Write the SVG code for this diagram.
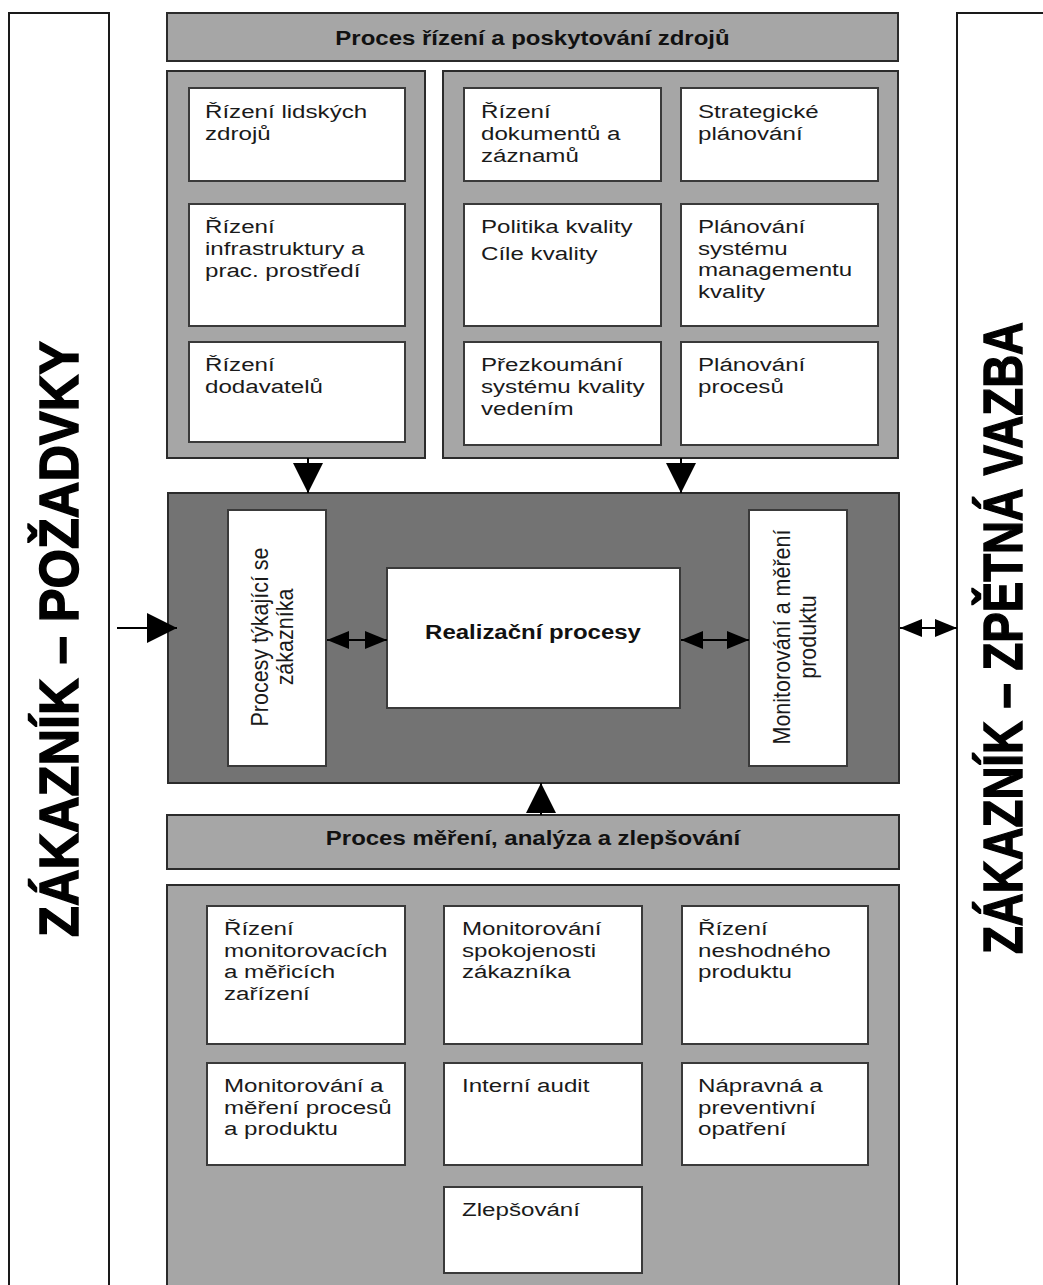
<svg xmlns="http://www.w3.org/2000/svg" width="1043" height="1285" viewBox="0 0 1043 1285">
  <style>
    .side { fill: #ffffff; stroke: #1a1a1a; stroke-width: 2; }
    .band { fill: #a6a6a6; stroke: #2b2b2b; stroke-width: 2; }
    .core { fill: #737373; stroke: #2b2b2b; stroke-width: 2; }
    .cell { fill: #ffffff; stroke: #3a3a3a; stroke-width: 2; }
    .t { font-family: "Liberation Sans", Arial, sans-serif; font-size: 19px; fill: #1a1a1a; }
    .tb { font-family: "Liberation Sans", Arial, sans-serif; font-size: 19.5px; font-weight: bold; fill: #111; text-anchor: middle; }
    .tv { font-family: "Liberation Sans", Arial, sans-serif; font-size: 21.5px; fill: #1a1a1a; text-anchor: middle; }
    .big { font-family: "Liberation Sans", Arial, sans-serif; font-size: 45.5px; font-weight: bold; fill: #000; stroke: #000; stroke-width: 1.2; text-anchor: middle; }
    .link { fill: none; stroke: #000; stroke-width: 2; }
  </style>
  <defs>
    <marker id="headBig" markerUnits="userSpaceOnUse" markerWidth="30" markerHeight="30" viewBox="0 0 30 30" refX="30" refY="15" orient="auto">
      <path d="M0,0 L30,15 L0,30 Z" fill="#000"/>
    </marker>
    <marker id="headSmall" markerUnits="userSpaceOnUse" markerWidth="22" markerHeight="18" viewBox="0 0 22 18" refX="22" refY="9" orient="auto-start-reverse">
      <path d="M0,0 L22,9 L0,18 Z" fill="#000"/>
    </marker>
  </defs>

  <!-- customer side columns -->
  <g id="customer-requirements">
    <rect class="side" x="9" y="13" width="100" height="1300"/>
    <text class="big" transform="translate(78,639) scale(1.23,1) rotate(-90)" textLength="596" lengthAdjust="spacingAndGlyphs">ZÁKAZNÍK – POŽADVKY</text>
  </g>
  <g id="customer-feedback">
    <rect class="side" x="957" y="13" width="120" height="1300"/>
    <text class="big" transform="translate(1022,638) scale(1.23,1) rotate(-90)" textLength="632" lengthAdjust="spacingAndGlyphs">ZÁKAZNÍK – ZPĚTNÁ VAZBA</text>
  </g>

  <!-- resource management -->
  <g id="resource-header">
    <rect class="band" x="167" y="13" width="731" height="48"/>
    <text class="tb" transform="matrix(1.23 0 0 1 532.5 45)">Proces řízení a poskytování zdrojů</text>
  </g>
  <g id="resource-panel-left">
    <rect class="band" x="167" y="71" width="258" height="387"/>
  </g>
  <g id="resource-panel-right">
    <rect class="band" x="443" y="71" width="455" height="387"/>
  </g>

  <g id="human-resources">
    <rect class="cell" x="189" y="88" width="216" height="93"/>
    <text class="t" transform="matrix(1.27 0 0 1 205 118)"><tspan x="0">Řízení lidských</tspan><tspan x="0" dy="22">zdrojů</tspan></text>
  </g>
  <g id="infrastructure">
    <rect class="cell" x="189" y="204" width="216" height="122"/>
    <text class="t" transform="matrix(1.27 0 0 1 205 233)"><tspan x="0">Řízení</tspan><tspan x="0" dy="22">infrastruktury a</tspan><tspan x="0" dy="22">prac. prostředí</tspan></text>
  </g>
  <g id="suppliers">
    <rect class="cell" x="189" y="342" width="216" height="100"/>
    <text class="t" transform="matrix(1.27 0 0 1 205 371)"><tspan x="0">Řízení</tspan><tspan x="0" dy="22">dodavatelů</tspan></text>
  </g>

  <g id="documents">
    <rect class="cell" x="464" y="88" width="197" height="93"/>
    <text class="t" transform="matrix(1.27 0 0 1 481 118)"><tspan x="0">Řízení</tspan><tspan x="0" dy="22">dokumentů a</tspan><tspan x="0" dy="22">záznamů</tspan></text>
  </g>
  <g id="strategic-planning">
    <rect class="cell" x="681" y="88" width="197" height="93"/>
    <text class="t" transform="matrix(1.27 0 0 1 698 118)"><tspan x="0">Strategické</tspan><tspan x="0" dy="22">plánování</tspan></text>
  </g>
  <g id="quality-policy">
    <rect class="cell" x="464" y="204" width="197" height="122"/>
    <text class="t" transform="matrix(1.27 0 0 1 481 233)"><tspan x="0">Politika kvality</tspan><tspan x="0" dy="27">Cíle kvality</tspan></text>
  </g>
  <g id="qms-planning">
    <rect class="cell" x="681" y="204" width="197" height="122"/>
    <text class="t" transform="matrix(1.27 0 0 1 698 233)"><tspan x="0">Plánování</tspan><tspan x="0" dy="22">systému</tspan><tspan x="0" dy="21.5">managementu</tspan><tspan x="0" dy="21.5">kvality</tspan></text>
  </g>
  <g id="management-review">
    <rect class="cell" x="464" y="342" width="197" height="103"/>
    <text class="t" transform="matrix(1.27 0 0 1 481 371)"><tspan x="0">Přezkoumání</tspan><tspan x="0" dy="22">systému kvality</tspan><tspan x="0" dy="22">vedením</tspan></text>
  </g>
  <g id="process-planning">
    <rect class="cell" x="681" y="342" width="197" height="103"/>
    <text class="t" transform="matrix(1.27 0 0 1 698 371)"><tspan x="0">Plánování</tspan><tspan x="0" dy="22">procesů</tspan></text>
  </g>

  <!-- product realization -->
  <g id="realization-frame">
    <rect class="core" x="168" y="493" width="731" height="290"/>
  </g>
  <g id="customer-processes">
    <rect class="cell" x="228" y="510" width="98" height="256"/>
    <text class="tv" transform="translate(268,637) scale(1.07,1) rotate(-90)"><tspan x="0">Procesy týkající se</tspan><tspan x="0" dy="23.4">zákazníka</tspan></text>
  </g>
  <g id="realization">
    <rect class="cell" x="387" y="568" width="293" height="140"/>
    <text class="tb" transform="matrix(1.23 0 0 1 533 639)">Realizační procesy</text>
  </g>
  <g id="product-monitoring">
    <rect class="cell" x="749" y="510" width="98" height="256"/>
    <text class="tv" transform="translate(790,637) scale(1.07,1) rotate(-90)"><tspan x="0">Monitorování a měření</tspan><tspan x="0" dy="24.3">produktu</tspan></text>
  </g>

  <!-- measurement, analysis and improvement -->
  <g id="measurement-header">
    <rect class="band" x="167" y="815" width="732" height="54"/>
    <text class="tb" transform="matrix(1.23 0 0 1 533 845)">Proces měření, analýza a zlepšování</text>
  </g>
  <g id="measurement-panel">
    <rect class="band" x="167" y="885" width="732" height="430"/>
  </g>

  <g id="measuring-equipment">
    <rect class="cell" x="207" y="906" width="198" height="138"/>
    <text class="t" transform="matrix(1.27 0 0 1 224 935)"><tspan x="0">Řízení</tspan><tspan x="0" dy="21.7">monitorovacích</tspan><tspan x="0" dy="21.7">a měřicích</tspan><tspan x="0" dy="21.7">zařízení</tspan></text>
  </g>
  <g id="customer-satisfaction">
    <rect class="cell" x="444" y="906" width="198" height="138"/>
    <text class="t" transform="matrix(1.27 0 0 1 462 935)"><tspan x="0">Monitorování</tspan><tspan x="0" dy="21.7">spokojenosti</tspan><tspan x="0" dy="21.7">zákazníka</tspan></text>
  </g>
  <g id="nonconforming-product">
    <rect class="cell" x="682" y="906" width="186" height="138"/>
    <text class="t" transform="matrix(1.27 0 0 1 698 935)"><tspan x="0">Řízení</tspan><tspan x="0" dy="21.7">neshodného</tspan><tspan x="0" dy="21.7">produktu</tspan></text>
  </g>
  <g id="process-monitoring">
    <rect class="cell" x="207" y="1063" width="198" height="102"/>
    <text class="t" transform="matrix(1.27 0 0 1 224 1092)"><tspan x="0">Monitorování a</tspan><tspan x="0" dy="21.7">měření procesů</tspan><tspan x="0" dy="21.7">a produktu</tspan></text>
  </g>
  <g id="internal-audit">
    <rect class="cell" x="444" y="1063" width="198" height="102"/>
    <text class="t" transform="matrix(1.27 0 0 1 462 1092)">Interní audit</text>
  </g>
  <g id="corrective-action">
    <rect class="cell" x="682" y="1063" width="186" height="102"/>
    <text class="t" transform="matrix(1.27 0 0 1 698 1092)"><tspan x="0">Nápravná a</tspan><tspan x="0" dy="21.7">preventivní</tspan><tspan x="0" dy="21.7">opatření</tspan></text>
  </g>
  <g id="improvement">
    <rect class="cell" x="444" y="1187" width="198" height="86"/>
    <text class="t" transform="matrix(1.27 0 0 1 462 1216)">Zlepšování</text>
  </g>

  <!-- connectors -->
  <g id="connectors">
    <path class="link" d="M308,458 V493" marker-end="url(#headBig)"/>
    <path class="link" d="M681,458 V493" marker-end="url(#headBig)"/>
    <path class="link" d="M541,815 V783" marker-end="url(#headBig)"/>
    <path class="link" d="M117,628 H177" marker-end="url(#headBig)"/>
    <path class="link" d="M327,640 H387" marker-start="url(#headSmall)" marker-end="url(#headSmall)"/>
    <path class="link" d="M681,640 H749" marker-start="url(#headSmall)" marker-end="url(#headSmall)"/>
    <path class="link" d="M900,628 H957" marker-start="url(#headSmall)" marker-end="url(#headSmall)"/>
  </g>
</svg>
